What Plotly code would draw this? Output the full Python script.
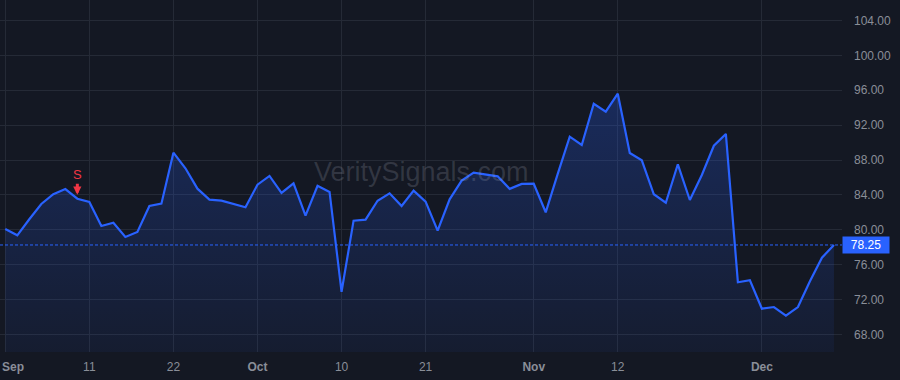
import pandas as pd
import plotly.graph_objects as go

# Trading days (NYSE) Sep 2 - Dec 9, 2025 (Thanksgiving closed)
holidays = ["2025-11-27"]
dates = [d.strftime("%Y-%m-%d") for d in pd.bdate_range("2025-09-02", "2025-12-09", freq="C", holidays=holidays)]

prices = [
    80.08, 79.36, 81.20, 82.95, 84.07, 84.67, 83.56, 83.18, 80.43, 80.81,
    79.17, 79.74, 82.72, 82.99, 88.84, 87.05, 84.71, 83.45, 83.33, 82.92,
    82.57, 85.17, 86.17, 84.22, 85.33, 81.61, 85.05, 84.33, 72.88, 81.04,
    81.15, 83.33, 84.18, 82.72, 84.48, 83.22, 79.89, 83.49, 85.63, 86.55,
    86.36, 86.13, 84.69, 85.25, 85.28, 82.00, 86.40, 90.68, 89.72, 94.46,
    93.55, 95.61, 88.81, 87.97, 84.07, 83.10, 87.51, 83.41, 86.28, 89.64,
    90.99, 73.97, 74.20, 70.94, 71.13, 70.14, 71.13, 74.08, 76.79, 78.25,
]

tick_dates = ["2025-09-02", "2025-09-11", "2025-09-22", "2025-10-01", "2025-10-10",
              "2025-10-21", "2025-11-03", "2025-11-12", "2025-12-01"]
tick_labels = ["<b>Sep</b>", "11", "22", "<b>Oct</b>", "10", "21", "<b>Nov</b>", "12", "<b>Dec</b>"]

y_ticks = [68, 72, 76, 80, 84, 88, 92, 96, 100, 104]

signal_date = "2025-09-10"
signal_text = "S"
last_price = prices[-1]
watermark = "VeritySignals.com"

BG = "#141823"
GRID = "#252a36"
BLUE = "#2962ff"
TXT = "#8a8e98"
FONT = "Liberation Sans, Arial"

fig = go.Figure()
fig.add_trace(go.Scatter(
    x=dates, y=prices, mode="lines",
    line=dict(color=BLUE, width=2.2),
    fill="tozeroy",
    fillgradient=dict(type="vertical", start=66, stop=96,
                      colorscale=[[0, "rgba(41,98,255,0.06)"], [1, "rgba(41,98,255,0.26)"]]),
    hoverinfo="skip", showlegend=False,
))

sig_idx = dates.index(signal_date)
fig.add_annotation(
    x=signal_date, y=prices[sig_idx], xref="x", yref="y",
    text=signal_text, showarrow=True, arrowhead=2, arrowsize=0.55, arrowwidth=3,
    arrowcolor="#f23645", ax=0, ay=-24, standoff=4,
    font=dict(color="#f23645", size=13, family=FONT),
)

fig.add_shape(type="line", xref="paper", yref="y", x0=0, x1=1, y0=last_price, y1=last_price,
              line=dict(color=BLUE, width=1, dash="3px,2px"))

fig.add_annotation(
    x=1, xref="paper", xanchor="left", y=last_price, yref="y",
    text=f"{last_price:.2f}", showarrow=False,
    bgcolor=BLUE, font=dict(color="white", size=12, family=FONT),
    borderpad=1, width=44, align="center",
)

fig.add_annotation(
    x=0.5, y=0.51, xref="paper", yref="paper", text=watermark, showarrow=False,
    font=dict(color="rgba(160,165,180,0.22)", size=27, family=FONT),
)

# first month label clamped to the left edge, as in the reference
fig.add_annotation(
    x=0, y=-0.043, xref="paper", yref="paper", xanchor="left", yanchor="middle",
    text=tick_labels[0], showarrow=False, font=dict(color=TXT, size=12, family=FONT),
)
axis_labels = [""] + tick_labels[1:]

fig.update_layout(
    width=900, height=380,
    margin=dict(l=0, r=58, t=0, b=28),
    paper_bgcolor=BG, plot_bgcolor=BG,
    font=dict(family=FONT, size=12, color=TXT),
    xaxis=dict(
        type="category", range=[-0.44, 69.67], automargin=False,
        tickmode="array", tickvals=tick_dates, ticktext=axis_labels,
        showgrid=True, gridcolor=GRID, gridwidth=1,
        showline=False, zeroline=False, ticks="",
        tickfont=dict(color=TXT, size=12), ticklabelstandoff=6,
    ),
    yaxis=dict(
        side="right", range=[65.97, 106.36], automargin=False,
        tickmode="array", tickvals=y_ticks, ticktext=[f"{v:.2f}" for v in y_ticks],
        showgrid=True, gridcolor=GRID, gridwidth=1,
        showline=False, zeroline=False, ticks="",
        tickfont=dict(color=TXT, size=12), ticklabelstandoff=11,
    ),
)

fig.write_html("out.html")
